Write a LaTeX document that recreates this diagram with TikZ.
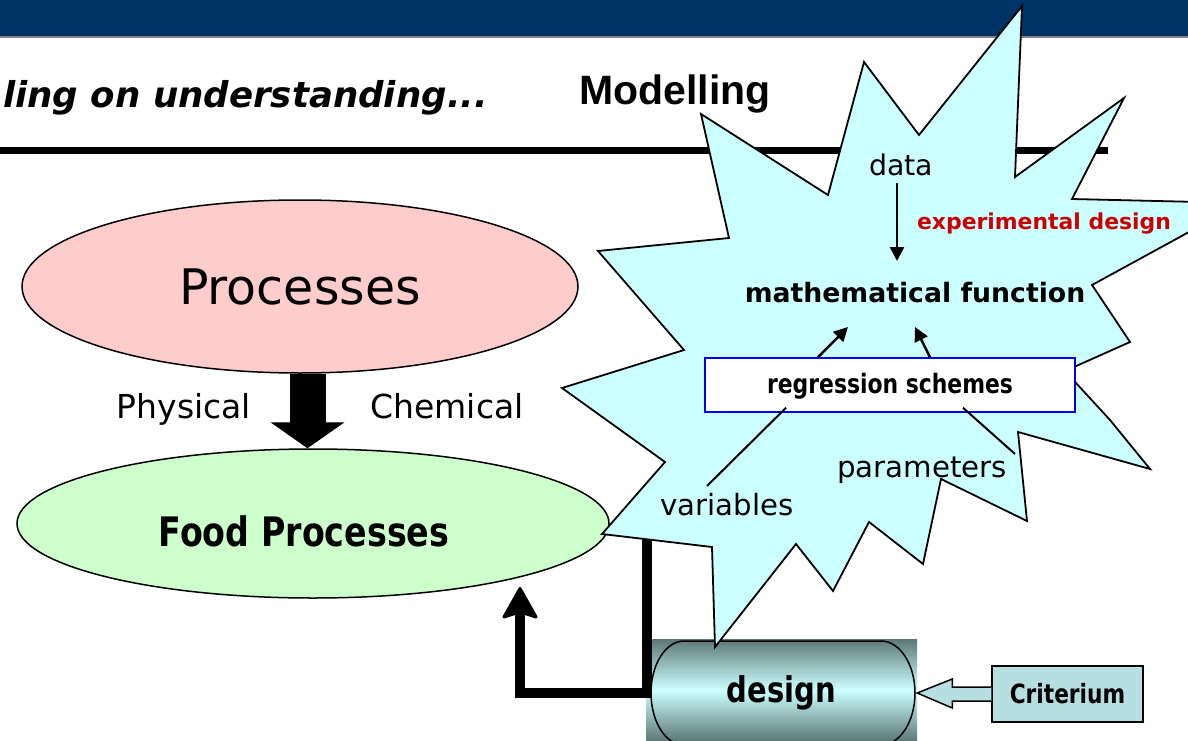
\documentclass[tikz,border=0pt]{standalone}
\usepackage{fontspec}
\setmainfont{DejaVu Sans}
\newfontfamily\arialfont{Liberation Sans}
\newfontfamily\hepfont{DejaVu Sans}[FakeStretch=0.82]
\usetikzlibrary{shapes.geometric,arrows.meta,calc}
\definecolor{navybar}{RGB}{0,51,102}
\definecolor{hong}{RGB}{255,204,204}
\definecolor{xanhla}{RGB}{204,255,204}
\definecolor{xanhsao}{RGB}{204,255,255}
\definecolor{dochu}{RGB}{204,0,0}
\definecolor{xanhhop}{RGB}{183,222,224}
\definecolor{xamdam}{RGB}{92,120,118}
\newcommand{\cochu}[1]{\fontsize{#1}{#1}\selectfont}

\begin{document}
\begin{tikzpicture}[x=1pt, y=-1pt, inner sep=0pt, line join=miter,
		elip/.style={ellipse, draw, line width=1.5pt},
		chu/.style={anchor=base, font=\cochu{#1}},
		chudam/.style={anchor=base, font=\bfseries\cochu{#1}},
		chuhep/.style={anchor=base, font=\hepfont\bfseries\cochu{#1}},
		mui/.style={line width=2.5pt, -{Triangle[length=14pt,width=14pt]}},
		vach/.style={line width=2pt}]
	\useasboundingbox (0,0) rectangle (1188,741);
	\fill[navybar] (0,0) rectangle (1188,36);
	\draw[gray, line width=2pt] (0,37) -- (1188,37);
	\node[anchor=base west, font=\bfseries\itshape\cochu{35.6}] (tieude) at (3,108) {ling on understanding...};
	\node[anchor=base, font=\arialfont\bfseries\cochu{41}] (modelling) at (675,105) {Modelling};
	\draw[line width=7pt] (0,150.5) -- (1108,150.5);
	
	\node[elip, fill=hong, minimum width=556pt, minimum height=173pt, font=\cochu{49}] (proc) at (300,286.5) {Processes};
	\node[elip, fill=xanhla, minimum width=592pt, minimum height=149pt] (food) at (313,523.5) {};
	\node[chuhep=40.6] (foodlbl) at (304,546) {Food Processes};
	\node[chu=33] (phys) at (184,418) {Physical};
	\node[chu=33] (chem) at (447,418) {Chemical};
	\draw[line width=36pt, -{Triangle[length=26pt,width=74pt,line width=1pt]}] ([xshift=7.5pt]proc.south) -- ([xshift=7.5pt]proc.south |- food.north);
	
	%Hộp design
	\shade[top color=xamdam, bottom color=xamdam, middle color=xanhsao] (646,639) rectangle (917,741);
	\draw[line width=1.5pt] (684,641) -- (881,641) arc[start angle=90, end angle=-90, x radius=34pt, y radius=52pt]
		-- (684,745) arc[start angle=270, end angle=90, x radius=33pt, y radius=52pt] -- cycle;
	\node[minimum width=271pt, minimum height=102pt, font=\hepfont\bfseries\cochu{35.4}] (design) at (781.5,693) {design};
	
	\coordinate (fbtop) at (647,540);
	\coordinate (fbend) at (520,587);
	\draw[line width=10pt, -{Stealth[length=34pt,width=38pt,inset=6pt,round,line width=3pt]}] (fbtop) -- (fbtop |- design.west) -| (fbend);
	
	%Ngôi sao
	\draw[fill=xanhsao, line width=1.8pt] (1022,6) -- (1015,177) -- (1124,98) -- (1072,199) -- (1242,203) -- (1092,285)
		-- (1130,342) -- (1065,371) -- (1110,420) -- (1150,469) -- (1018,432) -- (1027,521) -- (941,479) -- (923,564)
		-- (869,522) -- (833,591) -- (796,544) -- (715,647) -- (712,547) -- (602,534) -- (665,462) -- (562,388)
		-- (684,350) -- (598,251) -- (729,238) -- (701,114) -- (828,195) -- (864,62) -- (919,135) -- cycle;
	
	\node[chu=28.4] (data) at (901,175) {data};
	\node[chudam=21.9, text=dochu] (expd) at (1044,229) {experimental design};
	\node[chudam=26.7] (math) at (915,302) {mathematical function};
	\node[draw=blue, fill=white, line width=1.5pt, minimum width=370pt, minimum height=54pt] (regr) at (890,385) {};
	\node[chuhep=26.7] (regrlbl) at (890,393) {regression schemes};
	\node[chu=29.2] (vars) at (727,515) {variables};
	\node[chu=29.3] (params) at (922,477) {parameters};
	\draw[mui] ($(data.base)+(-4,8)$) -- ($(math.base)+(-18,-41)$);
	\draw[mui] ($(regr.north)+(-72,0)$) -- ($(math.base)+(-67,25)$);
	\draw[mui] ($(regr.north)+(40,0)$) -- ($(math.base)+(0,25)$);
	\draw[vach] ($(regr.south)+(-104,-5)$) -- ($(vars.base)+(-20,-29)$);
	\draw[vach] ($(regr.south)+(73,-5)$) -- ($(params.base)+(93,-23)$);
	
	\node[draw, fill=xanhhop, line width=1.5pt, minimum width=151pt, minimum height=56pt, font=\hepfont\bfseries\cochu{26.5}] (crit) at (1067.5,694) {Criterium};
	\draw[fill=xanhhop, line width=1.5pt] ($(crit.west)+(0,-7)$) -- ++(-39,0) -- ++(0,-8) -- (design.east)
		-- ($(crit.west)+(-39,14)$) -- ++(0,-7) -- ($(crit.west)+(0,7)$);
\end{tikzpicture}
\end{document}
